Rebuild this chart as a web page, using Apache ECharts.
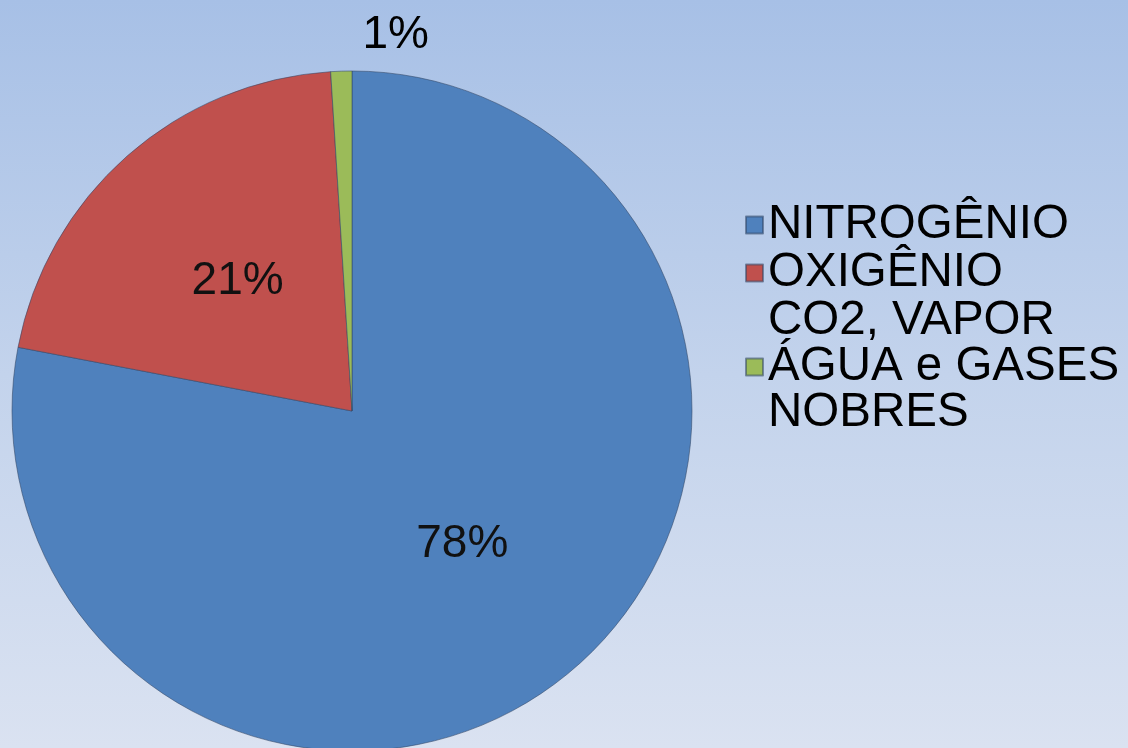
<!DOCTYPE html>
<html>
<head>
<meta charset="utf-8">
<script src="https://cdn.jsdelivr.net/npm/echarts@6/dist/echarts.min.js"></script>
<style>
html,body{margin:0;padding:0;}
#chart{width:1128px;height:748px;}
</style>
</head>
<body>
<div id="chart"></div>
<script>
var categories = ['NITROGÊNIO', 'OXIGÊNIO', 'CO2, VAPOR\nÁGUA e GASES\nNOBRES'];
var values = [78, 21, 1];
var colors = ['#4f81bd', '#c0504d', '#9bbb59'];

var chart = echarts.init(document.getElementById('chart'));
var data = categories.map(function (c, i) {
  var d = { name: c, value: values[i], itemStyle: { color: colors[i] } };
  if (i === 2) {
    d.label = { position: 'outside', color: '#000' };
    d.labelLine = { show: false, length: 10, length2: 0 };
  }
  return d;
});

chart.setOption({
  backgroundColor: {
    type: 'linear', x: 0, y: 0, x2: 0, y2: 1,
    colorStops: [
      { offset: 0, color: '#a7c0e6' },
      { offset: 0.5, color: '#c3d3ec' },
      { offset: 1, color: '#dae2f1' }
    ]
  },
  textStyle: { fontFamily: 'Liberation Sans, Arial, sans-serif' },
  legend: {
    orient: 'vertical',
    left: 740,
    top: 196,
    icon: 'rect',
    itemWidth: 17,
    itemHeight: 17,
    itemGap: 0,
    textStyle: {
      fontSize: 47.5,
      lineHeight: 46,
      color: '#000',
      fontFamily: 'Liberation Sans, Arial, sans-serif',
      padding: [0, 0, 0, 0]
    },
    data: categories
  },
  series: [{
    type: 'pie',
    center: [352, 411],
    radius: [0, 340],
    startAngle: 90,
    clockwise: true,
    animation: false,
    data: data,
    itemStyle: { borderColor: 'rgba(50,70,100,0.55)', borderWidth: 1 },
    label: {
      show: true,
      position: 'inside',
      formatter: '{c}%',
      fontSize: 46,
      color: '#111',
      fontFamily: 'Liberation Sans, Arial, sans-serif'
    },
    labelLayout: function (p) {
      if (p.dataIndex === 2) {
        return { dx: 93, dy: -26 };
      }
      return {};
    },
    emphasis: { disabled: true }
  }]
});
</script>
</body>
</html>
